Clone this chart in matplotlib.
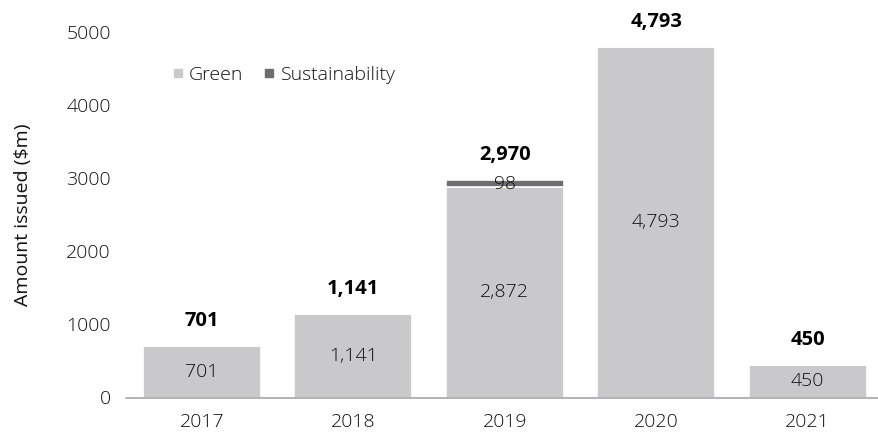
import matplotlib.pyplot as plt
from matplotlib.lines import Line2D

plt.rcParams['font.family'] = ['Open Sans', 'DejaVu Sans']
plt.rcParams['font.weight'] = 'light'

# 各年度發行金額（百萬美元）
years = ['2017', '2018', '2019', '2020', '2021']
green = [701, 1141, 2872, 4793, 450]
sustainability = [0, 0, 98, 0, 0]

GREEN_COLOR = '#c9c9cb'
SUST_COLOR = '#6d6e71'
TEXT_COLOR = '#111111'

fig = plt.figure(figsize=(8.79, 4.32), dpi=100)
ax = fig.add_axes([126 / 879, 34.5 / 432, 757.5 / 879, 365.7 / 432])

x = list(range(len(years)))
width = 0.78

ax.bar(x, green, width=width, color=GREEN_COLOR, edgecolor='white', linewidth=1.2, zorder=2)
ax.bar(x, sustainability, width=width, bottom=green, color=SUST_COLOR,
       edgecolor='white', linewidth=1.2, zorder=2)

# 柱內數值
for i, v in enumerate(green):
    ax.text(i, v / 2, f'{v:,}', ha='center', va='center', fontsize=14, color=TEXT_COLOR, zorder=3)
for i, v in enumerate(sustainability):
    if v:
        ax.text(i, green[i] + v / 2, f'{v:,}', ha='center', va='center', fontsize=14,
                color=TEXT_COLOR, zorder=3)

# 總額標籤
for i in x:
    total = green[i] + sustainability[i]
    ax.annotate(f'{total:,}', xy=(i, total), xytext=(0, 18), textcoords='offset points',
                ha='center', va='center', fontsize=14.5, fontweight='bold', color='black',
                annotation_clip=False)

ax.set_xlim(-0.5, 4.5)
ax.set_ylim(0, 5000)
ax.set_yticks([0, 1000, 2000, 3000, 4000, 5000])
ax.set_xticks(x)
ax.set_xticklabels(years)
ax.tick_params(axis='both', length=0, labelsize=14, colors=TEXT_COLOR)
ax.tick_params(axis='y', pad=11)
ax.tick_params(axis='x', pad=11)

for side in ['top', 'right', 'left']:
    ax.spines[side].set_visible(False)
ax.spines['bottom'].set_color('#a6a6a6')
ax.spines['bottom'].set_linewidth(1.2)

ax.set_ylabel('Amount issued ($m)', fontsize=14, color=TEXT_COLOR)
ax.yaxis.set_label_coords(-0.124, 0.5)

handles = [
    Line2D([], [], marker='s', linestyle='none', markersize=5.5, color=GREEN_COLOR),
    Line2D([], [], marker='s', linestyle='none', markersize=5.5, color=SUST_COLOR),
]
fig.legend(handles, ['Green', 'Sustainability'], loc='center left',
           bbox_to_anchor=(162 / 879, 1 - 75 / 432), ncol=2, frameon=False,
           fontsize=14, handlelength=0.6, handletextpad=0.3, columnspacing=1.0,
           borderpad=0, labelcolor=TEXT_COLOR)

fig.savefig('out.png', dpi=100)
